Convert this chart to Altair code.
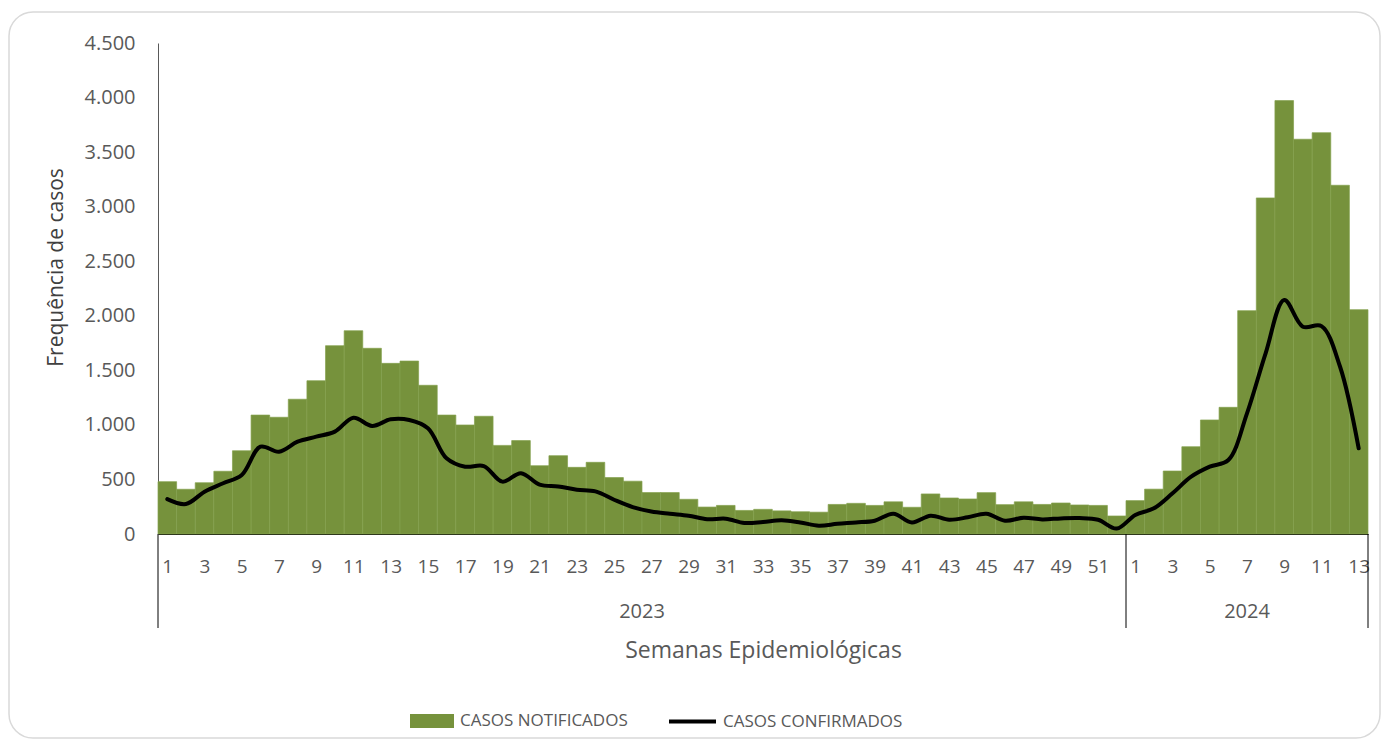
import altair as alt
import pandas as pd

# ---- data ----
weeks_2023 = list(range(1, 53))
weeks_2024 = list(range(1, 14))

notificados_2023 = [480, 410, 470, 575, 763, 1090, 1070, 1235, 1405, 1726,
                    1863, 1702, 1564, 1585, 1363, 1090, 999, 1079, 812, 856,
                    626, 718, 611, 657, 517, 484, 380, 380, 318, 247,
                    262, 216, 226, 212, 204, 200, 271, 281, 262, 295,
                    245, 367, 330, 321, 379, 269, 295, 271, 284, 266,
                    262, 165]
notificados_2024 = [306, 411, 577, 800, 1045, 1161, 2047, 3080, 3972, 3618,
                    3678, 3196, 2056]

confirmados_2023 = [320, 275, 388, 465, 541, 800, 754, 846, 892, 938,
                    1066, 990, 1051, 1045, 969, 694, 617, 623, 480, 557,
                    452, 436, 406, 391, 314, 247, 207, 186, 168, 135,
                    140, 101, 110, 125, 106, 76, 94, 106, 122, 186,
                    106, 168, 131, 153, 186, 122, 149, 134, 143, 146,
                    131, 50]
confirmados_2024 = [175, 235, 373, 525, 617, 678, 1106, 1656, 2145, 1900,
                    1905, 1533, 785]

years = ["2023", "2024"]
y_ticks = [0, 500, 1000, 1500, 2000, 2500, 3000, 3500, 4000, 4500]

# ---- build table ----
rows = []
i = 0
for yr, wks, nots, confs in [(years[0], weeks_2023, notificados_2023, confirmados_2023),
                             (years[1], weeks_2024, notificados_2024, confirmados_2024)]:
    for w, n, c in zip(wks, nots, confs):
        rows.append({"ano": yr, "semana": w, "start": i, "end": i + 1,
                     "mid": i + 0.5, "notificados": n, "confirmados": c,
                     "s1": "CASOS NOTIFICADOS", "s2": "CASOS CONFIRMADOS"})
        i += 1
df = pd.DataFrame(rows)
n1 = len(weeks_2023)
n_total = n1 + len(weeks_2024)

tick_vals = [w - 0.5 for w in weeks_2023 if w % 2 == 1] + \
            [n1 + w - 0.5 for w in weeks_2024 if w % 2 == 1]

sep_df = pd.DataFrame({"pos": [0, n1, n_total]})
year_df = pd.DataFrame({"ano": years, "center": [n1 / 2, (n1 + n_total) / 2]})
box_df = pd.DataFrame({"k": [0]})

W, H = 1210, 491
GRAY = "#595959"
GREEN = "#76923C"

xscale = alt.Scale(domain=[0, n_total], nice=False, zero=False)
x_axis = alt.Axis(values=tick_vals,
                  labelExpr=f"datum.value < {n1} ? datum.value + 0.5 : datum.value - {n1 - 0.5}",
                  ticks=False, labelPadding=32, labelBaseline="middle",
                  labelFontSize=19, labelColor=GRAY, labelFlush=False,
                  labelOverlap=False, domainColor="#000000", domainWidth=1,
                  grid=False, title="Semanas Epidemiológicas",
                  titleFontSize=23, titleFontWeight="normal", titleColor=GRAY,
                  titleX=W / 2, titleY=116, titleBaseline="middle",
                  titleAlign="center")
y_axis = alt.Axis(values=y_ticks,
                  labelExpr="replace(format(datum.value, ','), ',', '.')",
                  ticks=False, labelPadding=23, labelFontSize=20,
                  labelColor=GRAY, domainColor=GRAY, domainWidth=1,
                  grid=False, title="Frequência de casos",
                  titleFontSize=21, titleFontWeight="normal",
                  titleColor="#404040", titleX=-102, titleY=224,
                  titleBaseline="middle", titleAlign="center",
                  titleAngle=270)
yscale = alt.Scale(domain=[0, 4500], nice=False)

border = alt.Chart(box_df).mark_rect(
    fillOpacity=0, stroke="#D9D9D9", strokeWidth=1.5, cornerRadius=24
).encode(
    x=alt.value(-149), x2=alt.value(W + 12),
    y=alt.value(-31), y2=alt.value(H + 204)
)

bars = alt.Chart(df).mark_bar(color=GREEN, stroke="#84A04E", strokeWidth=0.7).encode(
    x=alt.X("start:Q", scale=xscale, axis=x_axis),
    x2="end:Q",
    y=alt.Y("notificados:Q", scale=yscale, axis=y_axis),
    y2=alt.datum(0),
    fill=alt.Fill("s1:N", scale=alt.Scale(domain=["CASOS NOTIFICADOS"], range=[GREEN]),
                  legend=alt.Legend(orient="none", legendX=252, legendY=656, title=None,
                                    symbolType="M-1,-0.318H1V0.318H-1Z", symbolSize=1936,
                                    symbolStrokeWidth=0, labelFontSize=17, labelLimit=400,
                                    labelColor=GRAY, labelOffset=6, padding=0))
)

line = alt.Chart(df).mark_line(strokeWidth=4, interpolate="catmull-rom",
                               strokeCap="round").encode(
    x=alt.X("mid:Q", scale=xscale, axis=x_axis),
    y=alt.Y("confirmados:Q", scale=yscale, axis=y_axis),
    stroke=alt.Stroke("s2:N", scale=alt.Scale(domain=["CASOS CONFIRMADOS"], range=["#000000"]),
                      legend=alt.Legend(orient="none", legendX=509, legendY=653, title=None,
                                        symbolType="stroke", symbolSize=2209,
                                        symbolStrokeWidth=4, labelFontSize=17, labelLimit=400,
                                        labelColor=GRAY, labelOffset=5, padding=0))
)

seps = alt.Chart(sep_df).mark_rule(color="#000000", strokeWidth=1).encode(
    x=alt.X("pos:Q", scale=xscale, axis=x_axis),
    y=alt.value(H), y2=alt.value(H + 94)
)

year_text = alt.Chart(year_df).mark_text(fontSize=20, color=GRAY, baseline="middle",
                                         align="center").encode(
    x=alt.X("center:Q", scale=xscale, axis=x_axis),
    y=alt.value(H + 78),
    text="ano:N"
)

chart = alt.layer(border, bars, line, seps, year_text).properties(
    width=W, height=H,
    autosize=alt.AutoSizeParams(type="none"),
    padding={"left": 150, "top": 35, "right": 14, "bottom": 206}
).configure(font="Open Sans").configure_view(stroke=None)

chart.save("out.html", embed_options={"renderer": "svg", "actions": False})
